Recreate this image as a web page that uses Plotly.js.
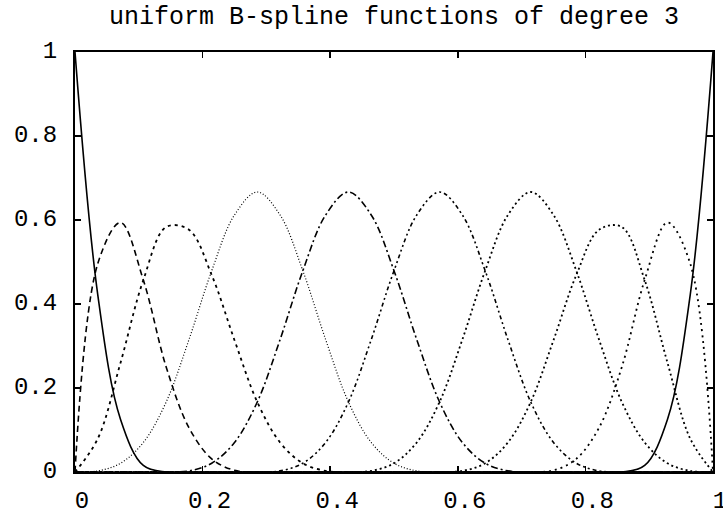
<!DOCTYPE html>
<html>
<head>
<meta charset="utf-8">
<script src="https://cdn.plot.ly/plotly-3.0.1.min.js"></script>
<style>
  body { margin: 0; background: #fff; }
  #plot { width: 723px; height: 514px; }
</style>
</head>
<body>
<div id="plot"></div>
<script>
// sample positions along t
var xs = [0, 0.0357, 0.0714, 0.1071, 0.1429, 0.1786, 0.2143, 0.25, 0.2857, 0.3214,
          0.3571, 0.3929, 0.4286, 0.4643, 0.5, 0.5357, 0.5714, 0.6071, 0.6429, 0.6786,
          0.7143, 0.75, 0.7857, 0.8214, 0.8571, 0.8929, 0.9286, 0.9643, 1];

// basis function values
var b0 = [1, 0.4219, 0.125, 0.0156, 0, 0, 0, 0, 0, 0, 0, 0, 0, 0, 0, 0, 0, 0, 0, 0, 0, 0, 0, 0, 0, 0, 0, 0, 0];
var b1 = [0, 0.4961, 0.5938, 0.457, 0.25, 0.1055, 0.0313, 0.0039, 0, 0, 0, 0, 0, 0, 0, 0, 0, 0, 0, 0, 0, 0, 0, 0, 0, 0, 0, 0, 0];
var b2 = [0, 0.0794, 0.2604, 0.457, 0.5833, 0.5768, 0.4688, 0.3138, 0.1667, 0.0703, 0.0208, 0.0026, 0, 0, 0, 0, 0, 0, 0, 0, 0, 0, 0, 0, 0, 0, 0, 0, 0];
var b3 = [0, 0.0026, 0.0208, 0.0703, 0.1667, 0.3151, 0.4792, 0.612, 0.6667, 0.612, 0.4792, 0.3151, 0.1667, 0.0703, 0.0208, 0.0026, 0, 0, 0, 0, 0, 0, 0, 0, 0, 0, 0, 0, 0];
var b4 = [0, 0, 0, 0, 0, 0.0026, 0.0208, 0.0703, 0.1667, 0.3151, 0.4792, 0.612, 0.6667, 0.612, 0.4792, 0.3151, 0.1667, 0.0703, 0.0208, 0.0026, 0, 0, 0, 0, 0, 0, 0, 0, 0];
var b5 = [0, 0, 0, 0, 0, 0, 0, 0, 0, 0.0026, 0.0208, 0.0703, 0.1667, 0.3151, 0.4792, 0.612, 0.6667, 0.612, 0.4792, 0.3151, 0.1667, 0.0703, 0.0208, 0.0026, 0, 0, 0, 0, 0];
var b6 = [0, 0, 0, 0, 0, 0, 0, 0, 0, 0, 0, 0, 0, 0.0026, 0.0208, 0.0703, 0.1667, 0.3151, 0.4792, 0.612, 0.6667, 0.612, 0.4792, 0.3151, 0.1667, 0.0703, 0.0208, 0.0026, 0];
var b7 = [0, 0, 0, 0, 0, 0, 0, 0, 0, 0, 0, 0, 0, 0, 0, 0, 0, 0.0026, 0.0208, 0.0703, 0.1667, 0.3138, 0.4688, 0.5768, 0.5833, 0.457, 0.2604, 0.0794, 0];
var b8 = [0, 0, 0, 0, 0, 0, 0, 0, 0, 0, 0, 0, 0, 0, 0, 0, 0, 0, 0, 0, 0, 0.0039, 0.0313, 0.1055, 0.25, 0.457, 0.5938, 0.4961, 0];
var b9 = [0, 0, 0, 0, 0, 0, 0, 0, 0, 0, 0, 0, 0, 0, 0, 0, 0, 0, 0, 0, 0, 0, 0, 0, 0, 0.0156, 0.125, 0.4219, 1];

var basis = [b0, b1, b2, b3, b4, b5, b6, b7, b8, b9];
var dashes = ['solid', '6px,4px', '3px,4px', '1px,2px', '7px,3px,2px,3px',
              '4px,3px,2px,3px,2px,3px', '2px,3px', '2px,3px', '2px,4px', 'solid'];
var widths = [1.6, 1.6, 1.8, 1.2, 1.6, 1.6, 1.8, 1.8, 1.8, 1.6];

var data = basis.map(function (ys, i) {
  return {
    x: xs,
    y: ys,
    type: 'scatter',
    mode: 'lines',
    line: { color: '#000', width: widths[i], dash: dashes[i], shape: 'spline', smoothing: 1 },
    hoverinfo: 'skip'
  };
});

var ax = {
  range: [0, 1],
  showgrid: false,
  zeroline: false,
  showline: true,
  linecolor: '#000',
  linewidth: 2,
  mirror: 'ticks',
  ticks: 'inside',
  ticklen: 6,
  tickwidth: 1.5,
  tickcolor: '#000',
  ticklabeloverflow: 'allow',
  tickfont: { family: 'Liberation Mono, monospace', size: 24, color: '#000' },
  tickvals: [0, 0.2, 0.4, 0.6, 0.8, 1],
  ticktext: ['0', '0.2', '0.4', '0.6', '0.8', '1']
};

var layout = {
  width: 723,
  height: 514,
  margin: { l: 75, r: 10, t: 52, b: 42 },
  paper_bgcolor: '#fff',
  plot_bgcolor: '#fff',
  showlegend: false,
  title: {
    text: 'uniform B-spline functions of degree 3',
    font: { family: 'Liberation Mono, monospace', size: 25, color: '#000' },
    x: 0.5, xref: 'paper', xanchor: 'center',
    y: 0.97, yref: 'container', yanchor: 'middle'
  },
  xaxis: Object.assign({}, ax, { ticklabelstandoff: 5, ticklabelshift: 7 }),
  yaxis: Object.assign({}, ax, { ticklabelstandoff: 11, ticklabelshift: -2 })
};

Plotly.newPlot('plot', data, layout, { displayModeBar: false, staticPlot: true });
</script>
</body>
</html>
